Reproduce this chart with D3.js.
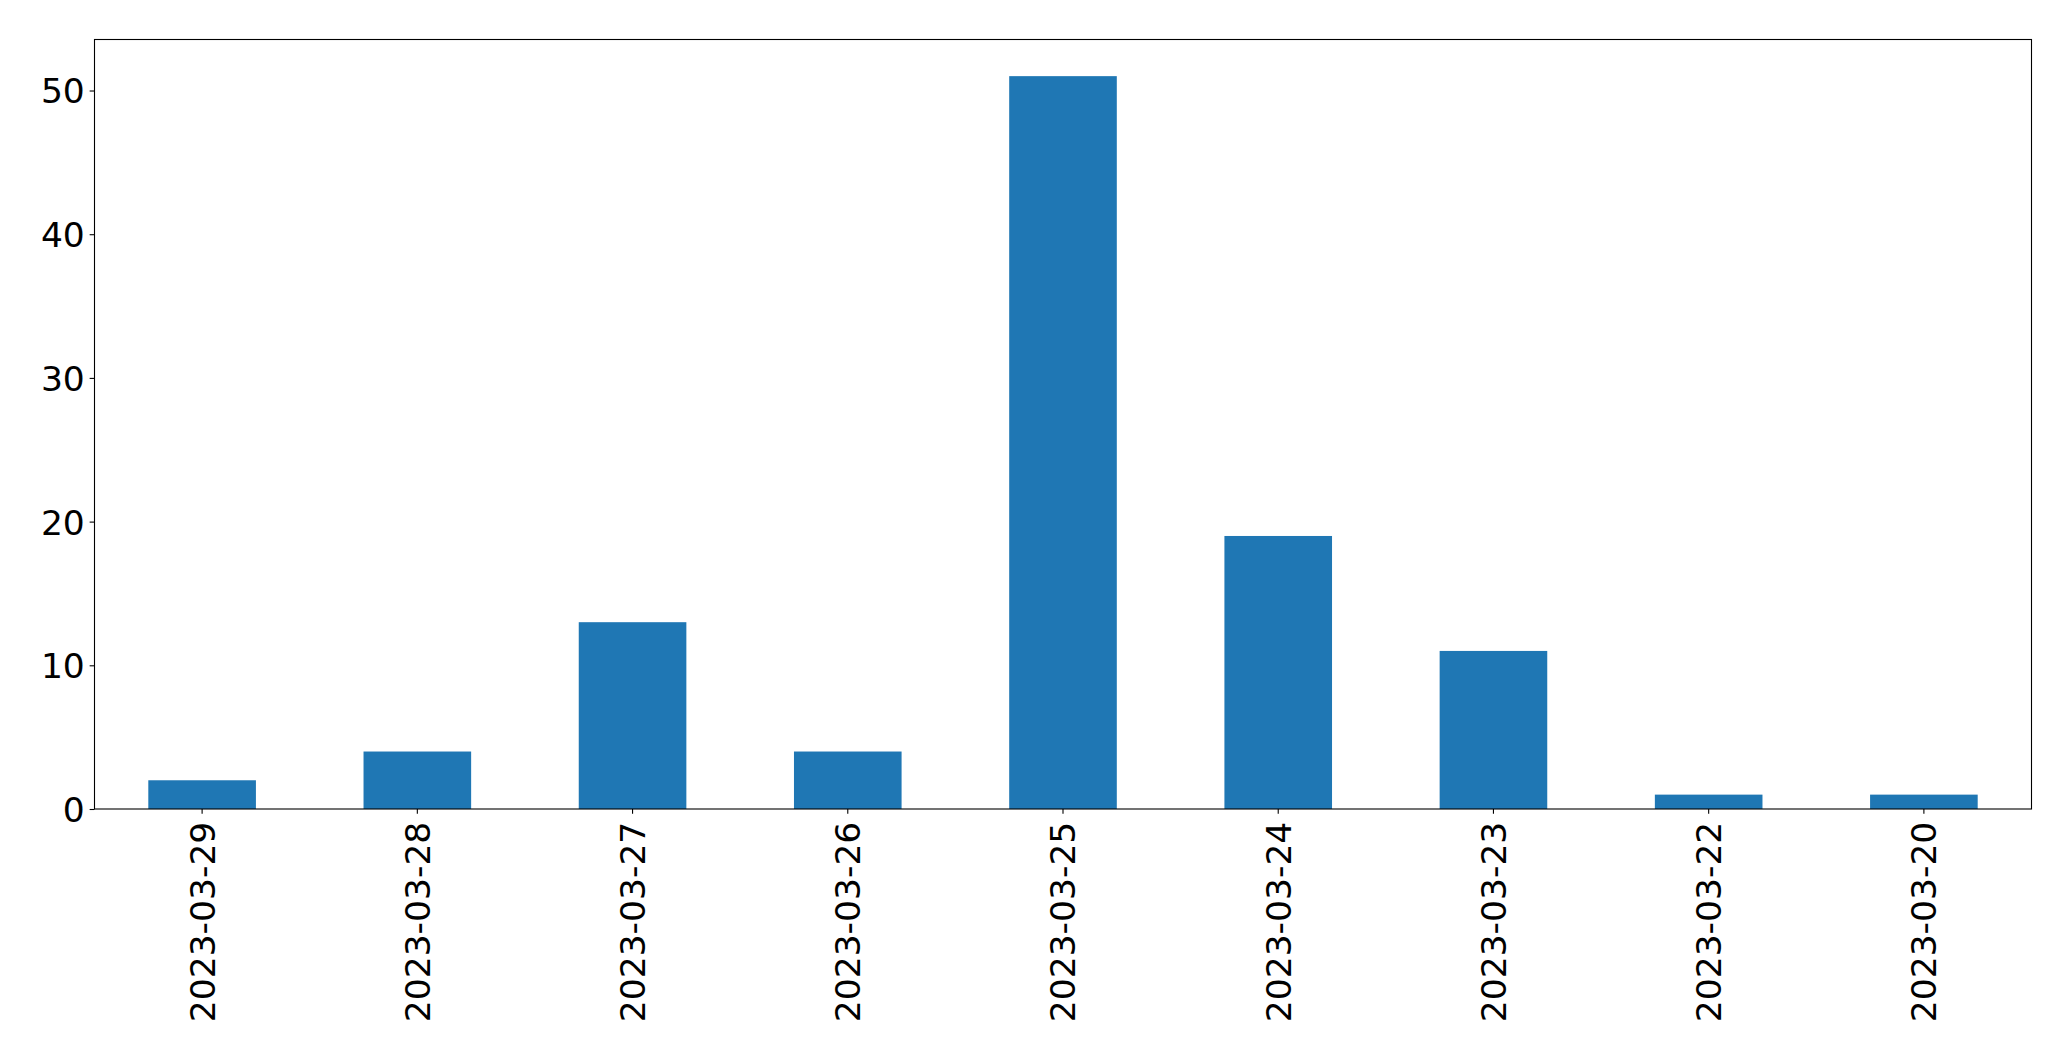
<!DOCTYPE html>
<html>
<head>
<meta charset="utf-8">
<script src="https://cdn.jsdelivr.net/npm/d3@7"></script>
<style>
html,body{margin:0;padding:0;background:#fff;}
svg{display:block;}
</style>
</head>
<body>
<svg id="chart" width="2071" height="1061"></svg>
<script>
const categories = ["2023-03-29","2023-03-28","2023-03-27","2023-03-26","2023-03-25","2023-03-24","2023-03-23","2023-03-22","2023-03-20"];
const counts = [2, 4, 13, 4, 51, 19, 11, 1, 1];
const yTicks = [0, 10, 20, 30, 40, 50];

const W = 2071, H = 1061;
const margin = {left: 94.5, right: 2071 - 2031.5, top: 39.5, bottom: 1061 - 809};
const fontSize = 34.5;
const tickLen = 4.86, tickPad = 4.86;

const svg = d3.select("#chart");
const x = d3.scaleBand().domain(categories)
  .range([margin.left, W - margin.right])
  .paddingInner(0.5).paddingOuter(0.25);
const yMax = d3.max(counts) * 1.05;
const y = d3.scaleLinear().domain([0, yMax]).range([H - margin.bottom, margin.top]);

svg.append("g").selectAll("rect").data(counts).join("rect")
  .attr("x", (d, i) => x(categories[i]))
  .attr("width", x.bandwidth())
  .attr("y", d => y(d))
  .attr("height", d => y(0) - y(d))
  .attr("fill", "#1f77b4");

// Y axis
const yAxis = d3.axisLeft(y).tickValues(yTicks).tickSize(tickLen).tickPadding(tickPad);
const gy = svg.append("g").attr("transform", `translate(${margin.left},0)`).call(yAxis);
gy.select(".domain").remove();
gy.selectAll("line").attr("stroke", "#000").attr("stroke-width", 1.1);
gy.selectAll("text").attr("font-family", "DejaVu Sans").attr("font-size", fontSize).attr("fill", "#000").attr("dy", "0.36em");

// X axis
const xAxis = d3.axisBottom(x).tickSize(tickLen).tickPadding(tickPad);
const gx = svg.append("g").attr("transform", `translate(0,${H - margin.bottom})`).call(xAxis);
gx.select(".domain").remove();
gx.selectAll("line").attr("stroke", "#000").attr("stroke-width", 1.1);
gx.selectAll("text")
  .attr("font-family", "DejaVu Sans").attr("font-size", fontSize).attr("fill", "#000")
  .attr("text-anchor", "end")
  .attr("transform", `rotate(-90)`)
  .attr("x", -(tickLen + tickPad + 3))
  .attr("y", 0)
  .attr("dy", "0.36em");

// Frame
svg.append("rect")
  .attr("x", margin.left).attr("y", margin.top)
  .attr("width", W - margin.right - margin.left)
  .attr("height", H - margin.bottom - margin.top)
  .attr("fill", "none").attr("stroke", "#000").attr("stroke-width", 1.1);
</script>
</body>
</html>
